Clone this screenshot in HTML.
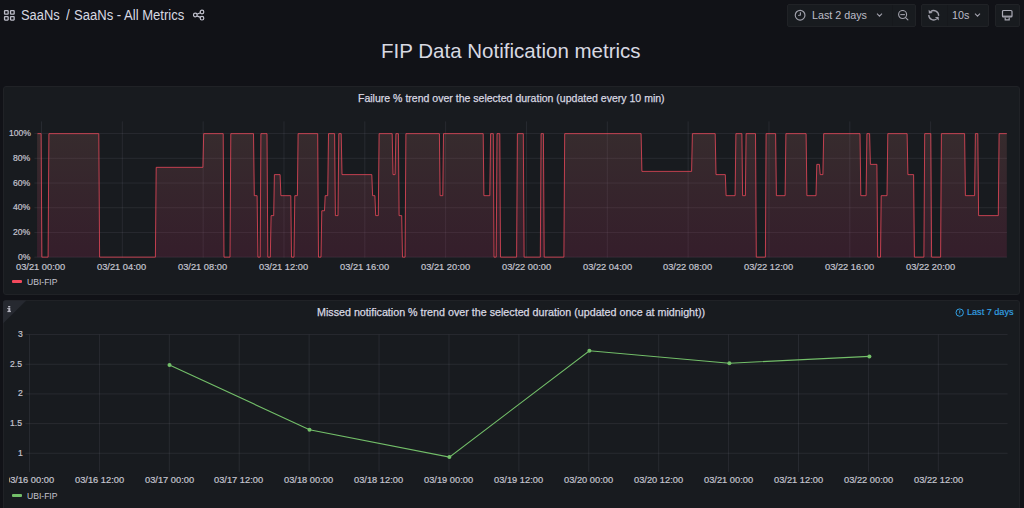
<!DOCTYPE html>
<html><head><meta charset="utf-8">
<style>
*{box-sizing:border-box;margin:0;padding:0}
html,body{width:1024px;height:508px;overflow:hidden;background:#111217;font-family:"Liberation Sans",sans-serif;color:#ccccdc}
.abs{position:absolute}
.panel{position:absolute;background:#181b1f;border:1px solid #202226;border-radius:3px}
.ov{position:absolute;left:0;top:0}
.yl{position:absolute;font-size:9.4px;line-height:12px;color:#c7c7d2;text-align:right;white-space:nowrap}
.xl{position:absolute;width:80px;text-align:center;font-size:9.4px;line-height:12px;color:#c7c7d2;white-space:nowrap}
.btn{position:absolute;background:#181b1f;border:1px solid #202226;border-radius:2px;top:4px;height:23px}
.sep{position:absolute;top:0;bottom:0;width:1px;background:#16181c}
.ptitle{position:absolute;font-size:10.2px;line-height:14px;color:#d8d9e2;white-space:nowrap}
.leg{position:absolute;font-size:9.6px;line-height:12px;color:#c7c7d2}
.sw{position:absolute;height:3.5px;border-radius:1px}
.t{position:absolute;white-space:nowrap;transform-origin:0 0}
.ax{color:#c4c4cf;-webkit-text-stroke:0.2px #c4c4cf}
.clip2{position:absolute;left:9px;top:460px;width:1000px;height:40px;overflow:hidden}
.clip2 .t{margin-left:-9px;margin-top:-460px}
</style></head><body>
<!-- header -->
<svg class="abs" style="left:3px;top:9px" width="14" height="13" viewBox="0 0 14 13">
<g fill="none" stroke="#bcbcc7" stroke-width="1.3">
<rect x="1.55" y="1.55" width="3.6" height="3.6" rx="0.5"/><rect x="7.55" y="1.55" width="3.6" height="3.6" rx="0.5"/>
<rect x="1.55" y="7.55" width="3.6" height="3.5" rx="0.5"/><rect x="7.55" y="7.55" width="3.6" height="3.5" rx="0.5"/>
</g></svg>
<svg class="abs" style="left:192px;top:9px" width="14" height="14" viewBox="0 0 14 14">
<g fill="none" stroke="#c3c3cf" stroke-width="1.2">
<circle cx="3.3" cy="6.0" r="1.8"/><circle cx="10" cy="3.0" r="1.8"/><circle cx="10" cy="9.2" r="1.8"/>
<path d="M4.9 5.2 L8.4 3.8 M4.9 6.9 L8.4 8.4"/></g></svg>

<div class="btn" style="left:787px;width:129px">
 <div class="sep" style="left:103.5px"></div>
</div>
<svg class="abs" style="left:794px;top:9px" width="12" height="13" viewBox="0 0 12 13"><g fill="none" stroke="#a0a0ab" stroke-width="1.15"><circle cx="6.1" cy="6.2" r="4.85"/><path d="M6.4 3.3 V6.0 L4.2 6.5"/></g></svg>
<svg class="abs" style="left:876px;top:12px" width="7" height="6" viewBox="0 0 7 6"><path d="M1 1.6 L3.5 4.1 L6 1.6" fill="none" stroke="#a0a0ab" stroke-width="1.1"/></svg>
<svg class="abs" style="left:897px;top:10px" width="12" height="12" viewBox="0 0 12 12"><g fill="none" stroke="#a0a0ab" stroke-width="1.1"><circle cx="5.6" cy="4.5" r="4.0"/><path d="M3.3 4.6 H7.9"/><path d="M8.6 7.6 L10.9 9.9" stroke-linecap="round"/></g></svg>

<div class="btn" style="left:921px;width:68px">
 <div class="sep" style="left:25px"></div>
</div>
<svg class="abs" style="left:924px;top:6px" width="20" height="18" viewBox="0 0 20 18"><g fill="none" stroke="#a0a0ab" stroke-width="1.3"><path d="M6.6 5.7 A4.9 4.9 0 0 1 14.6 9.9"/><path d="M4.8 8.9 A4.9 4.9 0 0 0 12.6 13.0"/></g><g fill="#a0a0ab"><path d="M4.6 3.7 L4.9 7.6 L8.6 7.0 Z"/><path d="M14.9 14.6 L14.6 10.8 L10.9 11.3 Z"/></g></svg>
<svg class="abs" style="left:974px;top:12px" width="7" height="6" viewBox="0 0 7 6"><path d="M1 1.6 L3.5 4.1 L6 1.6" fill="none" stroke="#a0a0ab" stroke-width="1.1"/></svg>

<div class="btn" style="left:995px;width:25px"></div>
<svg class="abs" style="left:1001px;top:9px" width="13" height="13" viewBox="0 0 13 13"><g fill="none" stroke="#a9a9b4" stroke-width="1.2"><rect x="1.5" y="1.5" width="9.5" height="6.5" rx="1"/><path d="M1.5 7.2 H11"/><path d="M4.2 8.4 V10.9 H8.2 V8.4"/></g></svg>

<!-- Title -->

<!-- Panel 1 -->
<div class="panel" style="left:3px;top:86px;width:1017px;height:209px"></div>
<div class="sw" style="left:12px;top:279.5px;width:10px;background:#f2495c"></div>

<!-- Panel 2 -->
<div class="panel" style="left:3px;top:300px;width:1017px;height:215px"></div>
<svg class="abs" style="left:3px;top:300px" width="26" height="26" viewBox="0 0 26 26"><path d="M0 2.5 Q0 0.5 2 0.5 H23.3 L0 23.5 Z" fill="#262930"/></svg>
<svg class="abs" style="left:7px;top:305px" width="5" height="8" viewBox="0 0 5 8"><g fill="#b4b4bf"><rect x="1.1" y="0.9" width="2.2" height="1.5" rx="0.3"/><rect x="1.3" y="3" width="2" height="3.6"/><rect x="0.3" y="3" width="1.4" height="1"/><rect x="0.4" y="5.9" width="3.5" height="1.2"/></g></svg>
<svg class="abs" style="left:955px;top:308px" width="10" height="10" viewBox="0 0 10 10"><g fill="none" stroke="#33a2e5" stroke-width="1"><circle cx="4.7" cy="4.6" r="3.7"/><path d="M4.8 2.3 V4.7 L3.9 5.5"/></g></svg>
<div class="sw" style="left:12px;top:493.5px;width:10px;background:#73bf69"></div>

<svg class="ov" width="1024" height="508" viewBox="0 0 1024 508">
<defs><linearGradient id="g1" x1="0" y1="133.63" x2="0" y2="257.15" gradientUnits="userSpaceOnUse"><stop offset="0" stop-color="rgb(214,128,120)" stop-opacity="0.16"/><stop offset="1" stop-color="rgb(205,45,105)" stop-opacity="0.16"/></linearGradient></defs>
<path d="M34.4 257.15 H1007 M34.4 232.44 H1007 M34.4 207.73 H1007 M34.4 183.02 H1007 M34.4 158.31 H1007 M34.4 133.60 H1007 M41.50 121.4 V257.6 M122.33 121.4 V257.6 M203.16 121.4 V257.6 M283.99 121.4 V257.6 M364.82 121.4 V257.6 M445.65 121.4 V257.6 M526.48 121.4 V257.6 M607.31 121.4 V257.6 M688.14 121.4 V257.6 M768.97 121.4 V257.6 M849.80 121.4 V257.6 M930.63 121.4 V257.6" stroke="rgba(204,204,220,0.09)" stroke-width="1" fill="none"/>
<path d="M37.1 133.63 L41.1 133.63 L41.9 257.15 L48.1 257.15 L48.9 133.63 L98.8 133.63 L99.6 257.15 L155.4 257.15 L156.2 167.34 L202.9 167.34 L203.7 133.63 L223.2 133.63 L224.0 257.15 L230.0 257.15 L230.8 133.63 L253.5 133.63 L254.3 195.66 L257.1 195.66 L257.9 257.15 L260.2 257.15 L260.9 133.63 L267.0 133.63 L267.8 257.15 L270.3 257.15 L271.1 215.61 L273.7 215.61 L274.4 174.62 L280.1 174.62 L280.9 195.66 L290.8 195.66 L291.5 257.15 L294.0 257.15 L294.8 195.66 L297.4 195.66 L298.1 133.63 L317.7 133.63 L318.5 257.15 L321.0 257.15 L321.8 210.76 L324.5 210.76 L325.2 195.66 L327.7 195.66 L328.5 133.63 L334.6 133.63 L335.4 215.61 L338.0 215.61 L338.8 133.63 L341.2 133.63 L342.0 174.62 L371.8 174.62 L372.6 195.66 L374.9 195.66 L375.7 215.61 L378.3 215.61 L379.1 133.63 L392.2 133.63 L393.0 174.62 L395.1 174.62 L395.9 133.63 L398.4 133.63 L399.1 215.61 L401.7 215.61 L402.5 257.15 L405.1 257.15 L405.9 133.63 L439.4 133.63 L440.1 195.66 L442.8 195.66 L443.5 133.63 L483.2 133.63 L483.9 195.66 L489.8 195.66 L490.6 133.63 L493.3 133.63 L494.0 257.15 L496.2 257.15 L497.0 133.63 L499.8 133.63 L500.5 257.15 L516.6 257.15 L517.4 133.63 L523.3 133.63 L524.1 257.15 L540.3 257.15 L541.1 133.63 L543.4 133.63 L544.2 257.15 L563.9 257.15 L564.7 133.63 L641.1 133.63 L641.9 171.39 L691.6 171.39 L692.4 133.63 L715.2 133.63 L716.0 174.62 L725.3 174.62 L726.1 195.66 L735.1 195.66 L735.9 133.63 L741.9 133.63 L742.6 195.66 L745.4 195.66 L746.1 133.63 L755.5 133.63 L756.3 257.15 L765.4 257.15 L766.1 133.63 L775.6 133.63 L776.4 195.66 L785.1 195.66 L785.9 133.63 L806.1 133.63 L806.9 195.66 L816.0 195.66 L816.8 164.37 L819.4 164.37 L820.2 174.62 L822.9 174.62 L823.7 133.63 L860.0 133.63 L860.8 195.66 L866.1 195.66 L866.9 133.63 L869.6 133.63 L870.4 164.37 L876.9 164.37 L877.7 257.15 L880.5 257.15 L881.2 195.66 L887.0 195.66 L887.8 133.63 L907.1 133.63 L907.9 174.62 L913.6 174.62 L914.4 257.15 L923.9 257.15 L924.7 133.63 L930.8 133.63 L931.6 257.15 L940.6 257.15 L941.4 133.63 L964.6 133.63 L965.4 195.66 L974.6 195.66 L975.4 133.63 L977.8 133.63 L978.6 215.61 L998.3 215.61 L999.1 133.63 L1006.8 133.63 L1006.8 257.15 L37.1 257.15 Z" fill="url(#g1)"/>
<path d="M37.5 133.63 L41.1 133.63 L41.9 257.15 L48.1 257.15 L48.9 133.63 L98.8 133.63 L99.6 257.15 L155.4 257.15 L156.2 167.34 L202.9 167.34 L203.7 133.63 L223.2 133.63 L224.0 257.15 L230.0 257.15 L230.8 133.63 L253.5 133.63 L254.3 195.66 L257.1 195.66 L257.9 257.15 L260.2 257.15 L260.9 133.63 L267.0 133.63 L267.8 257.15 L270.3 257.15 L271.1 215.61 L273.7 215.61 L274.4 174.62 L280.1 174.62 L280.9 195.66 L290.8 195.66 L291.5 257.15 L294.0 257.15 L294.8 195.66 L297.4 195.66 L298.1 133.63 L317.7 133.63 L318.5 257.15 L321.0 257.15 L321.8 210.76 L324.5 210.76 L325.2 195.66 L327.7 195.66 L328.5 133.63 L334.6 133.63 L335.4 215.61 L338.0 215.61 L338.8 133.63 L341.2 133.63 L342.0 174.62 L371.8 174.62 L372.6 195.66 L374.9 195.66 L375.7 215.61 L378.3 215.61 L379.1 133.63 L392.2 133.63 L393.0 174.62 L395.1 174.62 L395.9 133.63 L398.4 133.63 L399.1 215.61 L401.7 215.61 L402.5 257.15 L405.1 257.15 L405.9 133.63 L439.4 133.63 L440.1 195.66 L442.8 195.66 L443.5 133.63 L483.2 133.63 L483.9 195.66 L489.8 195.66 L490.6 133.63 L493.3 133.63 L494.0 257.15 L496.2 257.15 L497.0 133.63 L499.8 133.63 L500.5 257.15 L516.6 257.15 L517.4 133.63 L523.3 133.63 L524.1 257.15 L540.3 257.15 L541.1 133.63 L543.4 133.63 L544.2 257.15 L563.9 257.15 L564.7 133.63 L641.1 133.63 L641.9 171.39 L691.6 171.39 L692.4 133.63 L715.2 133.63 L716.0 174.62 L725.3 174.62 L726.1 195.66 L735.1 195.66 L735.9 133.63 L741.9 133.63 L742.6 195.66 L745.4 195.66 L746.1 133.63 L755.5 133.63 L756.3 257.15 L765.4 257.15 L766.1 133.63 L775.6 133.63 L776.4 195.66 L785.1 195.66 L785.9 133.63 L806.1 133.63 L806.9 195.66 L816.0 195.66 L816.8 164.37 L819.4 164.37 L820.2 174.62 L822.9 174.62 L823.7 133.63 L860.0 133.63 L860.8 195.66 L866.1 195.66 L866.9 133.63 L869.6 133.63 L870.4 164.37 L876.9 164.37 L877.7 257.15 L880.5 257.15 L881.2 195.66 L887.0 195.66 L887.8 133.63 L907.1 133.63 L907.9 174.62 L913.6 174.62 L914.4 257.15 L923.9 257.15 L924.7 133.63 L930.8 133.63 L931.6 257.15 L940.6 257.15 L941.4 133.63 L964.6 133.63 L965.4 195.66 L974.6 195.66 L975.4 133.63 L977.8 133.63 L978.6 215.61 L998.3 215.61 L999.1 133.63 L1006.8 133.63" stroke="#f2495c" stroke-width="1" fill="none" stroke-linejoin="miter" opacity="0.76"/>
<path d="M25.4 334.60 H1007.6 M25.4 364.27 H1007.6 M25.4 393.94 H1007.6 M25.4 423.61 H1007.6 M25.4 453.28 H1007.6 M29.50 334.6 V472.0 M99.41 334.6 V472.0 M169.32 334.6 V472.0 M239.23 334.6 V472.0 M309.14 334.6 V472.0 M379.05 334.6 V472.0 M448.96 334.6 V472.0 M518.87 334.6 V472.0 M588.78 334.6 V472.0 M658.69 334.6 V472.0 M728.60 334.6 V472.0 M798.51 334.6 V472.0 M868.42 334.6 V472.0 M938.33 334.6 V472.0" stroke="rgba(204,204,220,0.09)" stroke-width="1" fill="none"/>
<polyline points="169.5,365.0 309.5,429.7 449.4,457.1 589.4,350.8 729.4,363.2 869.4,356.4" stroke="#73bf69" stroke-width="1.1" fill="none"/>
<circle cx="169.5" cy="365.0" r="2" fill="#73bf69"/>
<circle cx="309.5" cy="429.7" r="2" fill="#73bf69"/>
<circle cx="449.4" cy="457.1" r="2" fill="#73bf69"/>
<circle cx="589.4" cy="350.8" r="2" fill="#73bf69"/>
<circle cx="729.4" cy="363.2" r="2" fill="#73bf69"/>
<circle cx="869.4" cy="356.4" r="2" fill="#73bf69"/>
</svg>
<div class="t" style="left:21.48px;top:7.70px;font-size:14.00px;line-height:14.00px;font-weight:normal;color:#d8d9e2;transform:scaleX(0.9184);">SaaNs</div>
<div class="t" style="left:65.60px;top:8.20px;font-size:14.00px;line-height:14.00px;font-weight:normal;color:#d8d9e2;transform:scaleX(0.9651);">/</div>
<div class="t" style="left:73.95px;top:7.70px;font-size:14.00px;line-height:14.00px;font-weight:normal;color:#d8d9e2;transform:scaleX(0.9320);">SaaNs - All Metrics</div>
<div class="t" style="left:381.23px;top:40.80px;font-size:20.60px;line-height:20.60px;font-weight:normal;color:#d8d9e2;transform:scaleX(0.9964);">FIP Data Notification metrics</div>
<div class="t" style="left:357.85px;top:92.60px;font-size:11.20px;line-height:11.20px;font-weight:normal;color:#d8d9e2;transform:scaleX(0.9409);-webkit-text-stroke:0.25px #d8d9e2;">Failure % trend over the selected duration (updated every 10 min)</div>
<div class="t" style="left:317.43px;top:306.50px;font-size:11.00px;line-height:11.00px;font-weight:normal;color:#d8d9e2;transform:scaleX(0.9737);-webkit-text-stroke:0.25px #d8d9e2;">Missed notification % trend over the selected duration (updated once at midnight))</div>
<div class="t" style="left:811.64px;top:9.60px;font-size:11.00px;line-height:11.00px;font-weight:normal;color:#bdbdc8;transform:scaleX(0.9770);">Last 2 days</div>
<div class="t" style="left:951.82px;top:9.60px;font-size:11.20px;line-height:11.20px;font-weight:normal;color:#bdbdc8;transform:scaleX(0.9613);">10s</div>
<div class="t" style="left:967.09px;top:307.90px;font-size:9.00px;line-height:9.00px;font-weight:normal;color:#33a2e5;transform:scaleX(1.0101);-webkit-text-stroke:0.15px #33a2e5;">Last 7 days</div>
<div class="t" style="left:27.46px;top:278.00px;font-size:9.00px;line-height:9.00px;font-weight:normal;color:#c4c4cf;transform:scaleX(0.9514);">UBI-FIP</div>
<div class="t" style="left:27.36px;top:491.60px;font-size:9.00px;line-height:9.00px;font-weight:normal;color:#c4c4cf;transform:scaleX(0.9514);">UBI-FIP</div>
<div class="t ax" style="left:18.10px;top:252.85px;font-size:9.10px;line-height:9.10px;transform:scaleX(0.9472)">0%</div>
<div class="t ax" style="left:13.31px;top:228.14px;font-size:9.10px;line-height:9.10px;transform:scaleX(0.9472)">20%</div>
<div class="t ax" style="left:13.31px;top:203.43px;font-size:9.10px;line-height:9.10px;transform:scaleX(0.9472)">40%</div>
<div class="t ax" style="left:13.31px;top:178.72px;font-size:9.10px;line-height:9.10px;transform:scaleX(0.9472)">60%</div>
<div class="t ax" style="left:13.31px;top:154.01px;font-size:9.10px;line-height:9.10px;transform:scaleX(0.9472)">80%</div>
<div class="t ax" style="left:8.51px;top:129.30px;font-size:9.10px;line-height:9.10px;transform:scaleX(0.9472)">100%</div>
<div class="t ax" style="left:16.31px;top:262.85px;font-size:9.10px;line-height:9.10px;transform:scaleX(1.0218)">03/21 00:00</div>
<div class="t ax" style="left:97.20px;top:262.85px;font-size:9.10px;line-height:9.10px;transform:scaleX(1.0218)">03/21 04:00</div>
<div class="t ax" style="left:178.09px;top:262.85px;font-size:9.10px;line-height:9.10px;transform:scaleX(1.0218)">03/21 08:00</div>
<div class="t ax" style="left:258.98px;top:262.85px;font-size:9.10px;line-height:9.10px;transform:scaleX(1.0218)">03/21 12:00</div>
<div class="t ax" style="left:339.87px;top:262.85px;font-size:9.10px;line-height:9.10px;transform:scaleX(1.0218)">03/21 16:00</div>
<div class="t ax" style="left:420.76px;top:262.85px;font-size:9.10px;line-height:9.10px;transform:scaleX(1.0218)">03/21 20:00</div>
<div class="t ax" style="left:501.65px;top:262.85px;font-size:9.10px;line-height:9.10px;transform:scaleX(1.0218)">03/22 00:00</div>
<div class="t ax" style="left:582.54px;top:262.85px;font-size:9.10px;line-height:9.10px;transform:scaleX(1.0218)">03/22 04:00</div>
<div class="t ax" style="left:663.43px;top:262.85px;font-size:9.10px;line-height:9.10px;transform:scaleX(1.0218)">03/22 08:00</div>
<div class="t ax" style="left:744.32px;top:262.85px;font-size:9.10px;line-height:9.10px;transform:scaleX(1.0218)">03/22 12:00</div>
<div class="t ax" style="left:825.21px;top:262.85px;font-size:9.10px;line-height:9.10px;transform:scaleX(1.0218)">03/22 16:00</div>
<div class="t ax" style="left:906.10px;top:262.85px;font-size:9.10px;line-height:9.10px;transform:scaleX(1.0218)">03/22 20:00</div>
<div class="t ax" style="left:17.56px;top:329.95px;font-size:9.10px;line-height:9.10px;transform:scaleX(0.9472)">3</div>
<div class="t ax" style="left:10.37px;top:359.62px;font-size:9.10px;line-height:9.10px;transform:scaleX(0.9472)">2.5</div>
<div class="t ax" style="left:17.56px;top:389.29px;font-size:9.10px;line-height:9.10px;transform:scaleX(0.9472)">2</div>
<div class="t ax" style="left:10.37px;top:418.96px;font-size:9.10px;line-height:9.10px;transform:scaleX(0.9472)">1.5</div>
<div class="t ax" style="left:17.56px;top:448.63px;font-size:9.10px;line-height:9.10px;transform:scaleX(0.9472)">1</div>
<div class="clip2"><div class="t ax" style="left:4.71px;top:475.85px;font-size:9.10px;line-height:9.10px;transform:scaleX(1.0218)">03/16 00:00</div><div class="t ax" style="left:74.62px;top:475.85px;font-size:9.10px;line-height:9.10px;transform:scaleX(1.0218)">03/16 12:00</div><div class="t ax" style="left:144.53px;top:475.85px;font-size:9.10px;line-height:9.10px;transform:scaleX(1.0218)">03/17 00:00</div><div class="t ax" style="left:214.44px;top:475.85px;font-size:9.10px;line-height:9.10px;transform:scaleX(1.0218)">03/17 12:00</div><div class="t ax" style="left:284.35px;top:475.85px;font-size:9.10px;line-height:9.10px;transform:scaleX(1.0218)">03/18 00:00</div><div class="t ax" style="left:354.26px;top:475.85px;font-size:9.10px;line-height:9.10px;transform:scaleX(1.0218)">03/18 12:00</div><div class="t ax" style="left:424.17px;top:475.85px;font-size:9.10px;line-height:9.10px;transform:scaleX(1.0218)">03/19 00:00</div><div class="t ax" style="left:494.08px;top:475.85px;font-size:9.10px;line-height:9.10px;transform:scaleX(1.0218)">03/19 12:00</div><div class="t ax" style="left:563.99px;top:475.85px;font-size:9.10px;line-height:9.10px;transform:scaleX(1.0218)">03/20 00:00</div><div class="t ax" style="left:633.90px;top:475.85px;font-size:9.10px;line-height:9.10px;transform:scaleX(1.0218)">03/20 12:00</div><div class="t ax" style="left:703.81px;top:475.85px;font-size:9.10px;line-height:9.10px;transform:scaleX(1.0218)">03/21 00:00</div><div class="t ax" style="left:773.72px;top:475.85px;font-size:9.10px;line-height:9.10px;transform:scaleX(1.0218)">03/21 12:00</div><div class="t ax" style="left:843.63px;top:475.85px;font-size:9.10px;line-height:9.10px;transform:scaleX(1.0218)">03/22 00:00</div><div class="t ax" style="left:913.54px;top:475.85px;font-size:9.10px;line-height:9.10px;transform:scaleX(1.0218)">03/22 12:00</div></div>
</body></html>
